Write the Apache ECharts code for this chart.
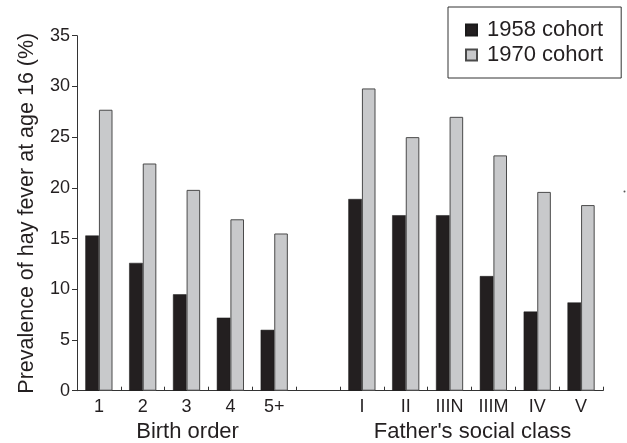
<!DOCTYPE html>
<html>
<head>
<meta charset="utf-8">
<script src="https://cdn.jsdelivr.net/npm/echarts@6/dist/echarts.min.js"></script>
<style>
  html, body { margin: 0; padding: 0; background: #fff; }
  #chart { width: 627px; height: 443px; }
</style>
</head>
<body>
<div id="chart"></div>
<script>
const categories = ['1', '2', '3', '4', '5+', '', 'I', 'II', 'IIIN', 'IIIM', 'IV', 'V'];
const cohort1958 = [15.3, 12.6, 9.5, 7.2, 6.0, null, 18.9, 17.3, 17.3, 11.3, 7.8, 8.7];
const cohort1970 = [27.7, 22.4, 19.8, 16.9, 15.5, null, 29.8, 25.0, 27.0, 23.2, 19.6, 18.3];
const seriesNames = ['1958 cohort', '1970 cohort'];
const groupNames = ['Birth order', "Father's social class"];
const groupFirst = ['1', 'I'];
const groupLast = ['5+', 'V'];
const yTitle = 'Prevalence of hay fever at age 16 (%)';

const FONT = '"Liberation Sans", Arial, Helvetica, sans-serif';
const INK = '#231f20';

const chart = echarts.init(document.getElementById('chart'), null, { renderer: 'canvas' });

chart.setOption({
  animation: false,
  backgroundColor: '#ffffff',
  textStyle: { fontFamily: FONT, color: INK },
  grid: { left: 77, right: 24, top: 35.7, bottom: 52.3, containLabel: false },
  legend: {
    orient: 'vertical',
    left: 448,
    top: 7,
    padding: [12, 18, 12, 17],
    itemWidth: 11,
    itemHeight: 11,
    itemGap: 3,
    icon: 'rect',
    borderColor: '#333333',
    borderWidth: 1,
    textStyle: { fontFamily: FONT, fontSize: 22, lineHeight: 22, color: INK, padding: [0, 0, 0, 5] },
    data: seriesNames
  },
  xAxis: {
    type: 'category',
    data: categories,
    axisLine: { lineStyle: { color: '#333333', width: 1 } },
    axisTick: { show: true, inside: true, length: 4, alignWithLabel: false, lineStyle: { color: '#333333' } },
    axisLabel: { fontFamily: FONT, fontSize: 18, color: INK, margin: 7, interval: 0 },
    splitLine: { show: false }
  },
  yAxis: {
    type: 'value',
    min: 0,
    max: 35,
    interval: 5,
    name: yTitle,
    nameLocation: 'middle',
    nameGap: 39,
    nameTextStyle: { fontFamily: FONT, fontSize: 21.5, color: INK },
    axisLine: { show: true, lineStyle: { color: '#333333', width: 1 } },
    axisTick: { show: true, inside: false, length: 5, lineStyle: { color: '#333333' } },
    axisLabel: { fontFamily: FONT, fontSize: 18, color: INK, margin: 7 },
    splitLine: { show: false }
  },
  series: [
    {
      name: seriesNames[0],
      type: 'bar',
      data: cohort1958,
      barGap: '0%',
      barCategoryGap: '38%',
      itemStyle: { color: INK, borderColor: '#1a1a1a', borderWidth: 0.5 }
    },
    {
      name: seriesNames[1],
      type: 'bar',
      data: cohort1970,
      barGap: '0%',
      barCategoryGap: '38%',
      itemStyle: { color: '#c8c9cb', borderColor: '#4a4a4a', borderWidth: 1 }
    }
  ]
});

function placeGroupLabels() {
  const els = groupNames.map((name, i) => {
    const x1 = chart.convertToPixel({ xAxisIndex: 0 }, groupFirst[i]);
    const x2 = chart.convertToPixel({ xAxisIndex: 0 }, groupLast[i]);
    return {
      type: 'text',
      x: (x1 + x2) / 2 + 1,
      y: 432,
      style: {
        text: name,
        fontFamily: FONT,
        fontSize: 22,
        fill: INK,
        align: 'center',
        verticalAlign: 'middle'
      }
    };
  });
  els.push({
    type: 'circle',
    shape: { cx: 624.5, cy: 191.5, r: 1 },
    style: { fill: '#555555' }
  });
  chart.setOption({ graphic: els });
}
placeGroupLabels();
</script>
</body>
</html>
